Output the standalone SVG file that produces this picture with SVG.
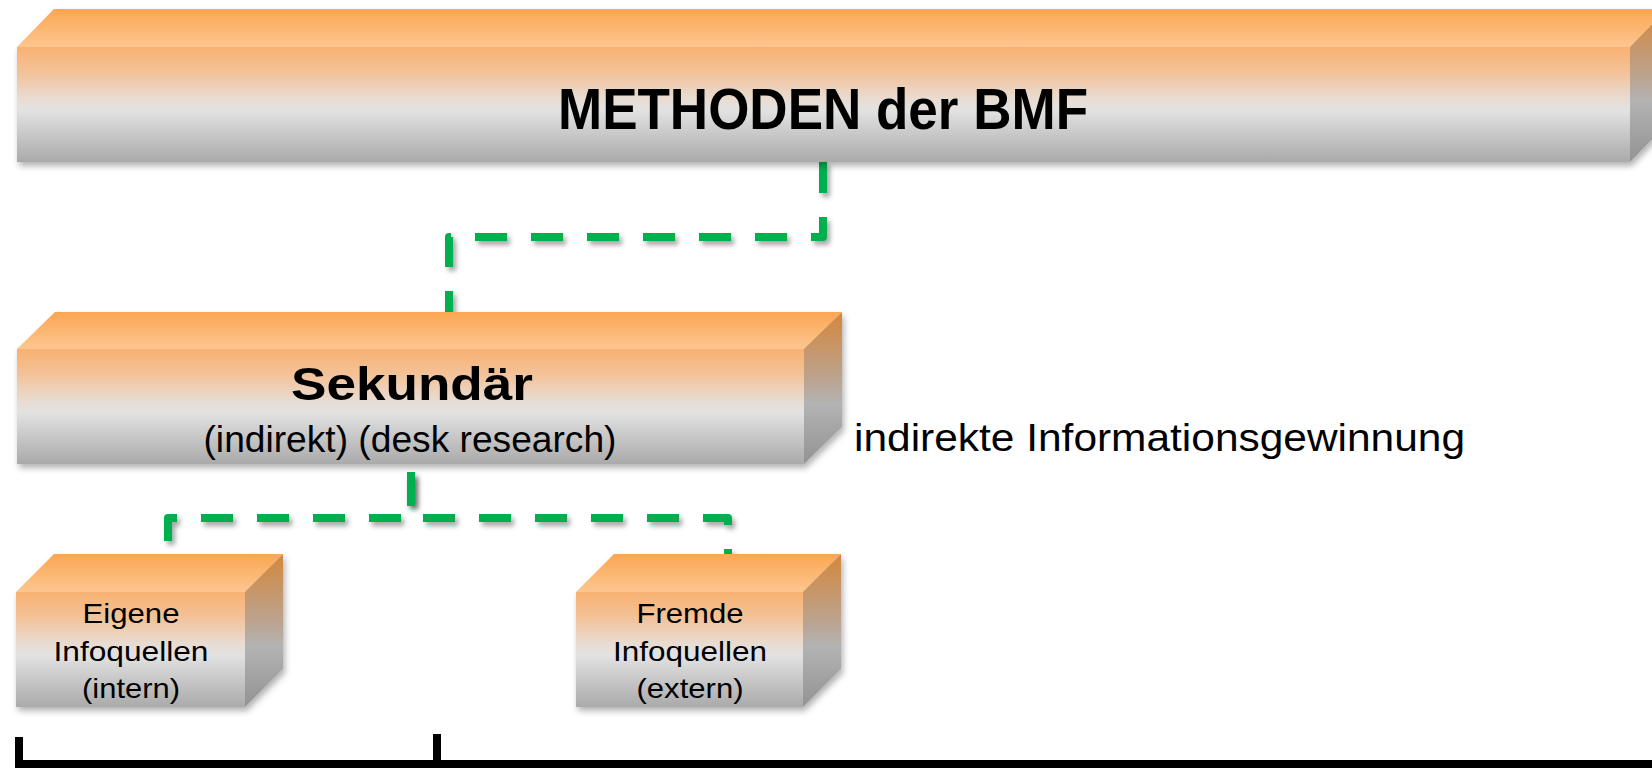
<svg xmlns="http://www.w3.org/2000/svg" width="1652" height="768" viewBox="0 0 1652 768">
  <defs>
    <!-- front face: orange fading into light grey, darker grey at the base -->
    <linearGradient id="gFront" x1="0" y1="0" x2="0" y2="1">
      <stop offset="0" stop-color="#F8B171"/>
      <stop offset="0.22" stop-color="#F3C298"/>
      <stop offset="0.45" stop-color="#E8DCD2"/>
      <stop offset="0.55" stop-color="#E2E2E2"/>
      <stop offset="1" stop-color="#AAAAAA"/>
    </linearGradient>
    <!-- top face -->
    <linearGradient id="gTop" x1="0" y1="0" x2="0" y2="1">
      <stop offset="0" stop-color="#FBA652"/>
      <stop offset="1" stop-color="#FDC690"/>
    </linearGradient>
    <!-- side face -->
    <linearGradient id="gSide" x1="0" y1="0" x2="0" y2="1">
      <stop offset="0" stop-color="#D4873C"/>
      <stop offset="0.45" stop-color="#BBA491"/>
      <stop offset="0.6" stop-color="#B3B3B3"/>
      <stop offset="1" stop-color="#939393"/>
    </linearGradient>
    <filter id="boxShadow" x="-5%" y="-10%" width="110%" height="130%">
      <feDropShadow dx="2" dy="4" stdDeviation="3" flood-color="#000" flood-opacity="0.3"/>
    </filter>
    <filter id="lineShadow" x="-10%" y="-10%" width="120%" height="130%">
      <feDropShadow dx="3" dy="4" stdDeviation="2.5" flood-color="#000" flood-opacity="0.35"/>
    </filter>
  </defs>
  <style>
    .front { fill: url(#gFront); }
    .top { fill: url(#gTop); }
    .side { fill: url(#gSide); }
    .box { filter: url(#boxShadow); }
    .conn { fill: none; stroke: #00B050; stroke-width: 8; stroke-dasharray: 32 24; stroke-linejoin: round; filter: url(#lineShadow); }
    .lbl { font-family: "Liberation Sans", Arial, sans-serif; fill: #000; text-anchor: middle; }
    .b { font-weight: bold; }
    .small { font-size: 28px; }
  </style>

  <rect width="1652" height="768" fill="#FFFFFF"/>

  <!-- connectors -->
  <g id="connectors">
    <path class="conn" d="M823,161 V237 H449 V313"/>
    <path class="conn" d="M168,554 V518 H411 V464" stroke-dashoffset="43"/>
    <path class="conn" d="M728,554 V518 H411 V464" stroke-dashoffset="27"/>
  </g>

  <!-- top level block -->
  <g id="methoden">
    <g class="box">
      <rect class="front" x="17" y="47" width="1613" height="115"/>
      <polygon class="top" points="17,47 54,9 1667,9 1630,47"/>
      <polygon class="side" points="1630,47 1667,9 1667,124 1630,162"/>
    </g>
    <text class="lbl b" x="823" y="129" font-size="58" textLength="530" lengthAdjust="spacingAndGlyphs">METHODEN der BMF</text>
  </g>

  <!-- secondary research block -->
  <g id="sekundaer">
    <g class="box">
      <rect class="front" x="17" y="349" width="787" height="115"/>
      <polygon class="top" points="17,349 55,312 842,312 804,349"/>
      <polygon class="side" points="804,349 842,312 842,427 804,464"/>
    </g>
    <text class="lbl b" x="412" y="400" font-size="46" textLength="242" lengthAdjust="spacingAndGlyphs">Sekundär</text>
    <text class="lbl" x="410" y="452" font-size="36" textLength="413" lengthAdjust="spacingAndGlyphs">(indirekt) (desk research)</text>
  </g>

  <!-- side note -->
  <g id="note">
    <text x="854" y="451" font-family="Liberation Sans, Arial, sans-serif" font-size="38" textLength="611" lengthAdjust="spacingAndGlyphs">indirekte Informationsgewinnung</text>
  </g>

  <!-- internal sources -->
  <g id="eigene">
    <g class="box">
      <rect class="front" x="16" y="592" width="229" height="115"/>
      <polygon class="top" points="16,592 54,554 283,554 245,592"/>
      <polygon class="side" points="245,592 283,554 283,669 245,707"/>
    </g>
    <text class="lbl small" x="131" y="623" textLength="97" lengthAdjust="spacingAndGlyphs">Eigene</text>
    <text class="lbl small" x="131" y="661" textLength="155" lengthAdjust="spacingAndGlyphs">Infoquellen</text>
    <text class="lbl small" x="131" y="698" textLength="98" lengthAdjust="spacingAndGlyphs">(intern)</text>
  </g>

  <!-- external sources -->
  <g id="fremde">
    <g class="box">
      <rect class="front" x="576" y="592" width="227" height="115"/>
      <polygon class="top" points="576,592 614,554 841,554 803,592"/>
      <polygon class="side" points="803,592 841,554 841,669 803,707"/>
    </g>
    <text class="lbl small" x="690" y="623" textLength="107" lengthAdjust="spacingAndGlyphs">Fremde</text>
    <text class="lbl small" x="690" y="661" textLength="154" lengthAdjust="spacingAndGlyphs">Infoquellen</text>
    <text class="lbl small" x="690" y="698" textLength="107" lengthAdjust="spacingAndGlyphs">(extern)</text>
  </g>

  <!-- bracket along the bottom edge -->
  <g id="bracket" fill="none" stroke="#000" stroke-width="8">
    <path d="M19,737 V764 H1652" stroke-linejoin="miter"/>
    <path d="M437,734 V764"/>
  </g>
</svg>
